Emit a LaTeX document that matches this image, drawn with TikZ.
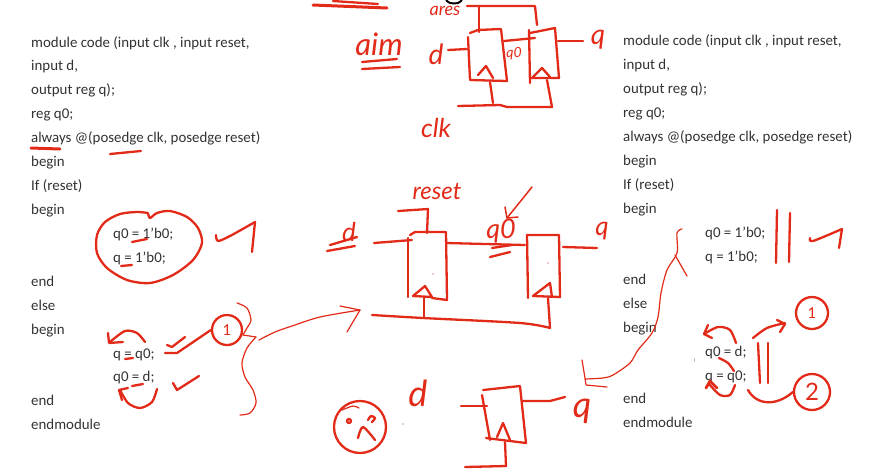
\documentclass[tikz,border=0pt]{standalone}
\usepackage{fontspec}
\setmainfont{Carlito}
\newfontfamily\handfont{Lato}
\definecolor{inkred}{RGB}{226,42,24}
\definecolor{codegray}{RGB}{50,50,50}
\tikzset{
    code/.style={anchor=base west,inner sep=0pt,text=codegray,font=\fontsize{14.9}{16}\selectfont},
    ink/.style={draw=inkred,line width=2.3pt,line cap=round,line join=round},
    thinink/.style={draw=inkred,line width=1.2pt,line cap=round,line join=round},
    hand/.style={inner sep=0pt,text=inkred,font=\handfont\itshape},
    ringed/.style={circle,ink,inner sep=0pt,text=inkred,font=\handfont\fontsize{15}{15}\selectfont},
}
\begin{document}
\begin{tikzpicture}[x=1pt,y=-1pt]
        \useasboundingbox (0,0) rectangle (870,472);
        \node[code] (lmodule) at (31,47) {module code (input clk , input reset,};
        \node[code] (linput) at (31,70) {input d,};
        \node[code] (loutput) at (31,94) {output reg q);};
        \node[code] (lreg) at (31,118) {reg q0;};
        \node[code] (lalways) at (31,142) {always @(posedge clk, posedge reset)};
        \node[code] (lbegina) at (31,166) {begin};
        \node[code] (lif) at (31,190) {If (reset)};
        \node[code] (lbeginb) at (31,214) {begin};
        \node[code] (lqza) at (113,238) {q0 = 1’b0;};
        \node[code] (lqa) at (113,262) {q = 1’b0;};
        \node[code] (lenda) at (31,286) {end};
        \node[code] (lelse) at (31,310) {else};
        \node[code] (lbeginc) at (31,334) {begin};
        \node[code] (lqb) at (113,358) {q = q0;};
        \node[code] (lqzb) at (113,381) {q0 = d;};
        \node[code] (lendb) at (31,405) {end};
        \node[code] (lendm) at (31,429) {endmodule};

        \node[code] (rmodule) at (623,45) {module code (input clk , input reset,};
        \node[code] (rinput) at (623,69) {input d,};
        \node[code] (routput) at (623,93) {output reg q);};
        \node[code] (rreg) at (623,117) {reg q0;};
        \node[code] (ralways) at (623,141) {always @(posedge clk, posedge reset)};
        \node[code] (rbegina) at (623,165) {begin};
        \node[code] (rif) at (623,189) {If (reset)};
        \node[code] (rbeginb) at (623,213) {begin};
        \node[code] (rqza) at (705,237) {q0 = 1’b0;};
        \node[code] (rqa) at (705,261) {q = 1’b0;};
        \node[code] (renda) at (623,284) {end};
        \node[code] (relse) at (623,308) {else};
        \node[code] (rbeginc) at (623,332) {begin};
        \node[code] (rqzb) at (705,356) {q0 = d;};
        \node[code] (rqb) at (705,380) {q = q0;};
        \node[code] (rendb) at (623,403) {end};
        \node[code] (rendm) at (623,427) {endmodule};

        \draw[ink,line width=3pt] (31,148) -- (60,149);
        \draw[ink] (110,154) -- (141,151);
        \draw[ink,line width=3pt] (313,5) -- (387,8);
        \draw[ink] (333,1) -- (378,4);
        \draw[black,line width=2pt] plot[smooth] coordinates {(446,0) (450,3) (458,3) (462,0)};

        \node[hand,font=\handfont\itshape\fontsize{31}{31}\selectfont] (aim) at (379,44) {aim};
        \draw[ink] (362,62) -- (397,59);
        \draw[ink] (362,69) -- (400,67);
        \node[hand,font=\handfont\itshape\fontsize{18}{18}\selectfont] (ares) at (445,11) {ares};
        \node[hand,font=\handfont\itshape\fontsize{28}{28}\selectfont] (topd) at (436,54) {d};
        \node[hand,font=\handfont\itshape\fontsize{28}{28}\selectfont] (topq) at (598,40) {q};
        \node[hand,font=\handfont\itshape\fontsize{14}{14}\selectfont] (topqz) at (514,54) {q0};
        \node[hand,font=\handfont\itshape\fontsize{26}{26}\selectfont] (topclk) at (436,128) {clk};
        \draw[ink] (468,37) -- (470,80) -- (507,81) -- (501,29) -- (478,30) -- (470,33);
        \draw[ink] (478,75) -- (486,66) -- (493,78);
        \draw[ink] (529,30) -- (530,83);
        \draw[ink] (530,33) -- (555,28) -- (559,78) -- (530,78);
        \draw[ink] (533,77) -- (542,68) -- (550,77);
        \draw[ink] (467,6) -- (535,6) -- (537,25);
        \draw[ink] (479,7) -- (479,32);
        \draw[ink] (448,50) -- (467,49);
        \draw[ink] (504,41) -- (535,38);
        \draw[ink] (558,41) -- (583,41);
        \draw[ink] (490,82) -- (493,103);
        \draw[ink] (458,106) -- (500,105) -- (507,107) -- (552,107) -- (547,80);

        \node[hand,font=\handfont\itshape\fontsize{24}{24}\selectfont] (midreset) at (437,192) {reset};
        \node[hand,font=\handfont\itshape\fontsize{26}{26}\selectfont] (midd) at (349,232) {d};
        \node[hand,font=\handfont\itshape\fontsize{27}{27}\selectfont] (midqz) at (501,231) {q0};
        \node[hand,font=\handfont\itshape\fontsize{26}{26}\selectfont] (midq) at (602,231) {q};
        \draw[ink] (330,245) -- (357,237);
        \draw[ink] (327,251) -- (355,246);
        \draw[ink] (398,211) -- (428,209) -- (427,233);
        \draw[ink] (408,238) -- (408,297);
        \draw[ink] (410,235) -- (415,232) -- (446,232) -- (447,300) -- (432,298);
        \draw[ink] (413,296) -- (425,286) -- (432,297) -- cycle;
        \draw[ink] (374,243) -- (412,240);
        \draw[ink] (446,243) -- (525,245);
        \draw[ink] (492,248) -- (512,245);
        \draw[ink] (490,257) -- (510,252);
        \draw[thinink,line width=1.5pt] (532,187) -- (507,218) -- (518,217);
        \draw[thinink,line width=1.5pt] (505,207) -- (507,218);
        \draw[ink] (527,235) -- (559,235) -- (560,297) -- (533,296);
        \draw[ink] (527,235) -- (528,298);
        \draw[ink] (533,296) -- (550,283) -- (552,297);
        \draw[ink] (563,247) -- (597,248);
        \draw[ink] plot[smooth] coordinates {(372,315) (423,318) (520,323) (550,328)};
        \draw[ink] (550,328) -- (548,298);
        \draw[ink] (424,318) -- (424,298);
        \fill[inkred!70!black] (433,274) circle (0.7);
        \fill[inkred!70!black] (548,263) circle (0.7);

        \draw[ink] (360,427) circle (26);
        \draw[ink] (349,421) circle (2);
        \draw[ink] plot[smooth] coordinates {(368,420) (371,416) (375,418) (372,422)};
        \draw[ink] plot[smooth] coordinates {(358,438) (363,427) (375,440)};
        \draw[thinink] plot[smooth] coordinates {(342,410) (353,406) (359,408)};
        \node[hand,font=\handfont\itshape\fontsize{36}{36}\selectfont] (lowd) at (418,393) {d};
        \node[hand,font=\handfont\itshape\fontsize{36}{36}\selectfont] (lowq) at (582,411) {q};
        \fill[inkred!70!black] (403,424) circle (0.7);
        \draw[ink] (482,395) -- (490,440);
        \draw[ink] (483,390) -- (520,386) -- (526,443) -- (486,438);
        \draw[ink] (497,437) -- (503,423) -- (510,440);
        \draw[ink] (461,406) -- (487,406);
        \draw[ink] (523,401) -- (550,401) -- (565,397);
        \draw[ink] (505,442) -- (506,466) -- (465,467);

        \draw[ink] plot[smooth] coordinates {(148,213) (137,212) (120,214) (105,222) (97,235) (97,253) (107,268) (127,280) (150,283) (173,275) (193,260) (202,243) (198,228) (187,217) (170,211) (157,213) (150,218) (148,213)};
        \draw[ink] (132,242) -- (147,239);
        \draw[ink] (121,266) -- (132,265);
        \draw[ink] plot[smooth] coordinates {(216,235) (218,241) (230,236) (255,222)};
        \draw[ink] (255,222) -- (252,252);

        \node[ringed,minimum size=30pt] (ringone) at (227,330) {1};
        \draw[ink] (167,345) -- (172,347) -- (185,337);
        \draw[ink] (ringone.west) -- (177,353) -- (165,353);
        \draw[ink] plot[smooth] coordinates {(145,342) (137,333) (125,331) (110,342)};
        \draw[ink] (108,333) -- (109,343) -- (123,342);
        \draw[ink] (125,359) -- (133,358);
        \draw[ink] (132,386) -- (143,384);
        \draw[ink] (173,383) -- (177,390) -- (199,376);
        \draw[ink] plot[smooth] coordinates {(157,389) (152,402) (140,408) (128,403) (120,390)};
        \draw[ink] (128,388) -- (119,390) -- (122,400);
        \draw[thinink] plot[smooth] coordinates {(237,303) (247,308) (251,320) (247,328) (243,335)};
        \draw[thinink] (243,335) -- (256,337);
        \draw[thinink] plot[smooth] coordinates {(256,337) (247,348) (242,363) (245,377) (253,390) (256,403) (250,413) (240,415)};
        \draw[thinink] plot[smooth] coordinates {(259,340) (275,332) (292,326) (320,317) (360,310)};
        \draw[thinink] (340,306) -- (360,310) -- (347,332);

        \draw[thinink] plot[smooth] coordinates {(682,229) (677,233) (677,253) (667,270) (661,293) (658,317) (652,333) (638,350) (630,363) (613,375) (603,378) (585,379)};
        \draw[thinink] (582,360) -- (585,378) -- (586,385) -- (607,387);
        \draw[thinink] (675,255) -- (687,276);
        \draw[ink] (777,210) -- (776,263);
        \draw[ink] (790,213) -- (789,262);
        \draw[ink] plot[smooth] coordinates {(810,238) (813,241) (842,229)};
        \draw[ink] (842,229) -- (839,248);

        \node[ringed,minimum size=32pt] (ringtwo) at (812,313) {1};
        \node[ringed,minimum size=36pt,font=\handfont\fontsize{24}{24}\selectfont] (ringthree) at (812,392) {2};
        \draw[ink] plot[smooth] coordinates {(753,338) (767,328) (785,323)};
        \draw[ink] (777,320) -- (785,324) -- (780,332);
        \draw[ink] (758,343) -- (760,383);
        \draw[ink] (768,343) -- (768,383);
        \draw[ink] (ringthree.west) .. controls (777,406) and (757,406) .. (748,390);
        \draw[ink] plot[smooth] coordinates {(736,343) (730,330) (718,327) (704,334)};
        \draw[ink] (708,325) -- (704,334) -- (712,338);
        \draw[ink] plot[smooth] coordinates {(719,358) (728,363) (734,371)};
        \draw[ink] plot[smooth] coordinates {(735,385) (730,395) (720,395) (710,385)};
        \draw[ink,line width=2.8pt] (706,388) -- (710,381) -- (717,388);
        \draw[gray!50] (694,358) -- (694,362);
    \end{tikzpicture}
\end{document}
